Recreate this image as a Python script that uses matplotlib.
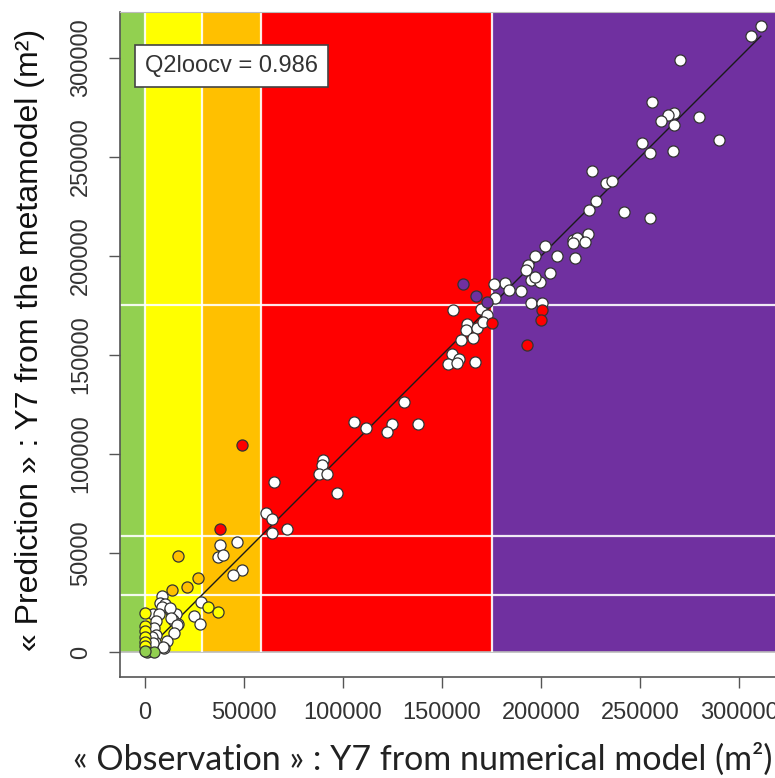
import numpy as np
import matplotlib
matplotlib.use("Agg")
from matplotlib import pyplot as plt
from matplotlib.patches import Rectangle

# observed (x) and predicted (y) areas, in m2
obs_white = [311000, 306000, 270000, 256000, 267000, 264000, 260600, 267000, 280000, 290000,
             251000, 255000, 266800, 225600, 233000, 236000, 228000, 224000, 242000, 255000,
             202000, 197000, 208000, 217000, 216000, 218000, 223500, 222000, 216000, 193600,
             192400, 204500, 195000, 199500, 197000, 190000, 181800, 184000, 176000, 177000,
             195000, 200600, 155700, 169700, 172700, 162500, 162000, 167800, 170500, 159600,
             165500, 154900, 158700, 152900, 157400, 166600, 130800, 105500, 111500, 124900,
             122000, 138000, 65300, 89700, 89600, 88000, 92000, 96800, 61000, 64000,
             71700, 64000, 46600, 37900, 36700, 39500, 48800, 44300, 28400, 24900,
             27800, 8700, 7600, 10100, 8700, 12600, 13500, 15500, 14300, 16800,
             3900, 7200, 12600, 13100, 16300, 5600, 4700, 5600, 5000, 14800,
             11000, 9700, 9200, 3400, 4200]
pred_white = [316000, 311000, 299000, 278000, 272000, 271000, 268000, 266000, 270000, 258600,
              257000, 252000, 253000, 243000, 237000, 238000, 228000, 223000, 222000, 219000,
              205000, 200000, 200000, 199000, 208000, 209000, 211000, 207000, 206500, 195400,
              193000, 191500, 188000, 187000, 189500, 182500, 186500, 183000, 185700, 179000,
              176000, 176000, 172700, 173000, 170000, 165600, 162600, 163500, 166500, 157600,
              158400, 150500, 148000, 145400, 146000, 146600, 126000, 116000, 113000, 115000,
              111000, 115000, 86000, 97000, 94400, 90000, 89700, 80500, 70300, 67300,
              62000, 60000, 55400, 53900, 48000, 49000, 41400, 38900, 25400, 18300,
              14100, 28400, 24600, 24000, 22900, 21200, 19500, 19000, 16200, 14000,
              19200, 19200, 22000, 17000, 13600, 15700, 12000, 8600, 5200, 9400,
              5700, 1800, 2700, 7700, 4400]

obs_orange = [16800, 26900, 21000, 13800]
pred_orange = [48600, 37500, 32700, 31300]
obs_yellow = [31700, 37000, 0, 0, 0, 0, 0, 0]
pred_yellow = [22900, 20000, 19500, 13300, 10600, 7700, 5200, 3000]
obs_green = [1200, 4700, 0]
pred_green = [0, 0, 500]
obs_red = [48800, 37900, 200600, 200000, 192700, 175400]
pred_red = [104500, 62000, 172700, 167700, 155000, 166300]
obs_purple = [160700, 167000, 172900]
pred_purple = [186000, 180000, 176600]

# class thresholds
thresholds = [0, 29000, 58500, 175000]
band_colors = ["#92D050", "#FFFF00", "#FFC000", "#FF0000", "#7030A0"]
q2 = 0.986

fig = plt.figure(figsize=(7.75, 7.78), dpi=100)
ax = fig.add_axes([120 / 775, 101 / 778, 655 / 775, 665 / 778])
ax.set_xlim(-12625, 318150)
ax.set_ylim(-12625, 323200)
x0, x1 = ax.get_xlim()
ytop = ax.get_ylim()[1]

# coloured class bands
edges = [x0] + thresholds + [x1]
for i, c in enumerate(band_colors):
    ax.add_patch(Rectangle((edges[i], 0), edges[i + 1] - edges[i], ytop,
                           fc=c, ec="none", zorder=0))
ax.axhline(0, color="#BBBBBB", lw=1.2, zorder=1)
for t in thresholds[1:]:
    ax.axhline(t, color="white", lw=1.6, alpha=0.9, zorder=1)
ax.vlines(thresholds, 0, ytop, color="white", lw=1.6, alpha=0.9, zorder=1)

all_obs = np.array(obs_white + obs_orange + obs_yellow + obs_green + obs_red + obs_purple)
line = np.array([all_obs.min(), all_obs.max()])
ax.plot(line, line, color="#1a1a1a", lw=1.0, zorder=2)

kw = dict(s=64, edgecolors="#333333", linewidths=0.9, zorder=3)
ax.scatter(obs_white, pred_white, c="white", **kw)
ax.scatter(obs_orange, pred_orange, c=band_colors[2], **kw)
ax.scatter(obs_yellow, pred_yellow, c=band_colors[1], **kw)
ax.scatter(obs_green, pred_green, c=band_colors[0], **kw)
ax.scatter(obs_red, pred_red, c=band_colors[3], **kw)
ax.scatter(obs_purple, pred_purple, c=band_colors[4], **kw)

ticks = np.arange(0, 300001, 50000)
ax.set_xticks(ticks)
ax.set_yticks(ticks)
ax.set_xticklabels([str(t) for t in ticks], fontfamily="Liberation Sans", fontsize=17, color="#333333")
ax.set_yticklabels([str(t) for t in ticks], fontfamily="Liberation Sans", fontsize=17, color="#333333",
                   rotation=90, va="center")
ax.tick_params(axis="x", length=8, width=1, color="#555555", pad=10)
ax.tick_params(axis="y", length=8, width=1, color="#555555", pad=12)
for s in ["left", "bottom"]:
    ax.spines[s].set_color("#555555")
    ax.spines[s].set_linewidth(1.2)
ax.spines["top"].set_color("#BBBBBB")
ax.spines["right"].set_visible(False)

ax.text(0.038, 0.919, "Q2loocv = %.3f" % q2, transform=ax.transAxes,
        fontfamily="Liberation Sans", fontsize=17, color="#333333", va="center", ha="left",
        bbox=dict(boxstyle="square,pad=0.42", fc="white", ec="#444444", lw=1.2), zorder=5)

fig.text(0.546, 0.010, "« Observation » : Y7 from numerical model (m²)", fontfamily="Lato",
         fontsize=24.5, color="#222222", ha="center", va="baseline")
fig.text(0.039, 0.563, "« Prediction » : Y7 from the metamodel (m²)", fontfamily="Liberation Sans",
         fontsize=23, color="#111111", ha="center", va="center", rotation=90)

fig.savefig("out.png", dpi=100)
